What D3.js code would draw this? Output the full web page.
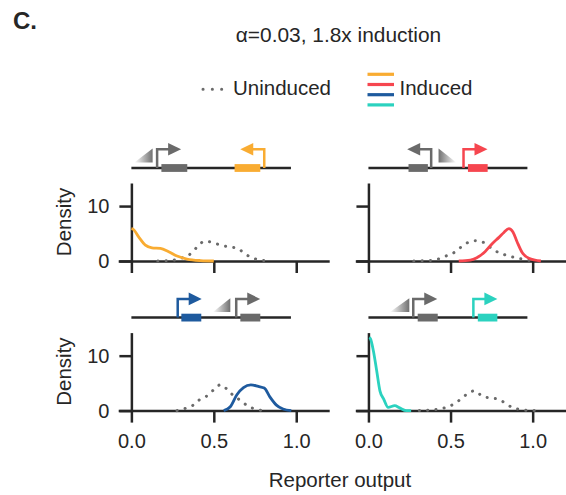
<!DOCTYPE html>
<html>
<head>
<meta charset="utf-8">
<script src="https://cdn.jsdelivr.net/npm/d3@7"></script>
<style>
body{margin:0;background:#fff;}
text{font-family:"Liberation Sans",Arial,sans-serif;fill:#262626;}
</style>
</head>
<body>
<script>
var width=566,height=495;

// ---- data ----
var xTicks=[0,0.5,1.0];
var yTicks=[0,10];
var xDomain=[-0.08,1.2];
var yDomain=[0,14.2];

// density curves [reporter output, density]
var inducedA=[[0,5.9],[0.01,5.8],[0.044,4.4],[0.085,2.9],[0.125,2.4],[0.176,2.3],[0.226,1.7],[0.277,0.9],[0.337,0.36],[0.42,0.08],[0.5,0]];
var uninducedA=[[0.16,0],[0.22,0.05],[0.317,0.67],[0.367,1.5],[0.40,2.6],[0.445,3.6],[0.49,3.4],[0.54,2.9],[0.59,2.6],[0.645,2.3],[0.685,1.4],[0.73,0.6],[0.78,0.2],[0.85,0]];
var inducedB=[[0.55,0],[0.62,0.15],[0.66,0.6],[0.71,1.7],[0.755,3.2],[0.795,4.3],[0.825,5.2],[0.855,5.9],[0.88,5.3],[0.905,3.5],[0.937,1.5],[0.977,0.5],[1.05,0]];
var uninducedB=[[0.276,0],[0.378,0.1],[0.44,0.5],[0.48,1.0],[0.525,1.6],[0.567,2.6],[0.608,3.4],[0.657,3.7],[0.70,3.4],[0.75,2.3],[0.795,1.5],[0.845,1.0],[0.896,0.6],[0.947,0.3],[1.0,0]];
var inducedC=[[0.56,0],[0.6,0.7],[0.64,2.9],[0.68,4.2],[0.725,4.7],[0.77,4.4],[0.806,4.1],[0.84,2.5],[0.88,1.0],[0.92,0.3],[0.97,0]];
var uninducedC=[[0.277,0],[0.327,0.4],[0.37,0.9],[0.41,1.9],[0.46,2.7],[0.5,3.8],[0.54,4.7],[0.58,3.9],[0.62,2.7],[0.665,1.8],[0.705,0.85],[0.75,0.3],[0.8,0]];
var inducedD=[[0.005,13.3],[0.012,13.1],[0.03,10.9],[0.05,7.3],[0.07,3.6],[0.093,2.1],[0.12,0.6],[0.16,0.9],[0.19,0.5],[0.23,0],[0.26,0]];
var uninducedD=[[0.31,0],[0.38,0.1],[0.43,0.3],[0.475,0.6],[0.52,1.2],[0.563,2.1],[0.6,3.0],[0.647,3.6],[0.69,2.7],[0.74,2.3],[0.79,2.1],[0.835,1.3],[0.88,0.5],[0.927,0.2],[0.98,0],[1.03,0]];

// gene circuit schematics, in reporter-output units along the panel
// promoters: [position, direction], genes: [start, end], inducer ramps: [start, end, direction]
var promotersA=[[0.156,1,"g"],[0.806,-1,"c"]];
var genesA=[[0.182,0.339,"g"],[0.626,0.782,"c"]];
var rampsA=[[0.018,0.129,1]];
var promotersB=[[0.382,-1,"g"],[0.579,1,"c"]];
var genesB=[[0.244,0.362,"g"],[0.606,0.726,"c"]];
var rampsB=[[0.427,0.535,-1]];
var promotersC=[[0.281,1,"c"],[0.636,1,"g"]];
var genesC=[[0.303,0.424,"c"],[0.661,0.782,"g"]];
var rampsC=[[0.495,0.6,1]];
var promotersD=[[0.273,1,"g"],[0.639,1,"c"]];
var genesD=[[0.3,0.422,"g"],[0.666,0.785,"c"]];
var rampsD=[[0.131,0.249,1]];
var schematicEnd=0.968;

var colors=["#f9ac32","#f6464f","#1e5a9e","#2bd2bf"];
var grey="#6a6a6a", ink="#262626";

var panels=[
  {induced:inducedA,uninduced:uninducedA,promoters:promotersA,genes:genesA,ramps:rampsA,color:colors[0],col:0,row:0},
  {induced:inducedB,uninduced:uninducedB,promoters:promotersB,genes:genesB,ramps:rampsB,color:colors[1],col:1,row:0},
  {induced:inducedC,uninduced:uninducedC,promoters:promotersC,genes:genesC,ramps:rampsC,color:colors[2],col:0,row:1},
  {induced:inducedD,uninduced:uninducedD,promoters:promotersD,genes:genesD,ramps:rampsD,color:colors[3],col:1,row:1}
];

// ---- layout ----
var colX=[[118.2,329.2],[355.3,565.5]];
var rowY=[[261,183],[410.6,332.6]];

var svg=d3.select("body").append("svg")
  .attr("width",width).attr("height",height);

var defs=svg.append("defs");
var gUp=defs.append("linearGradient").attr("id","rampUp");
gUp.append("stop").attr("offset","0%").attr("stop-color","#ffffff");
gUp.append("stop").attr("offset","100%").attr("stop-color","#707070");
var gDown=defs.append("linearGradient").attr("id","rampDown");
gDown.append("stop").attr("offset","0%").attr("stop-color","#707070");
gDown.append("stop").attr("offset","100%").attr("stop-color","#ffffff");

svg.append("text").attr("x",13).attr("y",28.5)
  .style("font-size","24px").style("font-weight","bold").text("C.");
svg.append("text").attr("x",338.5).attr("y",41.7).attr("text-anchor","middle")
  .style("font-size","20.9px").text("α=0.03, 1.8x induction");

// legend
svg.append("line").attr("x1",203).attr("x2",223).attr("y1",89.3).attr("y2",89.3)
  .attr("stroke",grey).attr("stroke-width",3).attr("stroke-linecap","round")
  .attr("stroke-dasharray","0.1 9.2");
svg.append("text").attr("x",233).attr("y",95).style("font-size","20.5px").text("Uninduced");
colors.forEach(function(c,i){
  svg.append("line").attr("x1",367.5).attr("x2",394).attr("y1",74.3+i*10.2).attr("y2",74.3+i*10.2)
    .attr("stroke",c).attr("stroke-width",3.2);
});
svg.append("text").attr("x",399.5).attr("y",95).style("font-size","20.5px").text("Induced");

panels.forEach(function(p){
  var x=d3.scaleLinear().domain(xDomain).range(colX[p.col]);
  var y=d3.scaleLinear().domain(yDomain).range(rowY[p.row]);
  var g=svg.append("g");
  var line=d3.line().x(function(d){return x(d[0]);}).y(function(d){return y(d[1]);}).curve(d3.curveMonotoneX);

  // axes
  var xa=d3.axisBottom(x).tickValues(xTicks).tickSize(12).tickSizeOuter(0).tickPadding(11.5)
    .tickFormat(p.row==1?d3.format(".1f"):function(){return "";});
  var gx=g.append("g").attr("transform","translate(0,"+y(0)+")").call(xa);
  var ya=d3.axisLeft(y).tickValues(yTicks).tickSize(12).tickSizeOuter(0).tickPadding(10)
    .tickFormat(p.col==0?d3.format("d"):function(){return "";});
  var gy=g.append("g").attr("transform","translate("+x(0)+",0)").call(ya);
  [gx,gy].forEach(function(a){
    a.selectAll("path,line").attr("stroke",ink).attr("stroke-width",2.5);
    a.selectAll("text").style("font-size","20px").attr("fill",ink)
      .style("font-family","'Liberation Sans',Arial,sans-serif");
  });

  if(p.col==0){
    g.append("text").attr("transform","translate(70.5,"+((y(0)+y(yDomain[1]))/2)+") rotate(-90)")
      .attr("text-anchor","middle").style("font-size","20.5px").text("Density");
  }

  g.append("path").datum(p.uninduced).attr("d",line).attr("fill","none")
    .attr("stroke",grey).attr("stroke-width",3).attr("stroke-linecap","round")
    .attr("stroke-dasharray","0.1 8.2");
  g.append("path").datum(p.induced).attr("d",line).attr("fill","none")
    .attr("stroke",p.color).attr("stroke-width",2.8).attr("stroke-linejoin","round");

  // schematic
  var ly=y(0)-93;
  var s=g.append("g");
  s.append("line").attr("x1",x(0)).attr("x2",x(schematicEnd)).attr("y1",ly).attr("y2",ly)
    .attr("stroke",ink).attr("stroke-width",2.5);
  s.selectAll("rect").data(p.genes).enter().append("rect")
    .attr("x",function(d){return x(d[0]);}).attr("width",function(d){return x(d[1])-x(d[0]);})
    .attr("y",ly-3.9).attr("height",7.8)
    .attr("fill",function(d){return d[2]=="g"?grey:p.color;});
  p.promoters.forEach(function(d){
    var px=x(d[0]), dir=d[1], c=d[2]=="g"?grey:p.color, top=ly-18.7;
    s.append("path").attr("d","M"+px+","+ly+" V"+top+" H"+(px+dir*12))
      .attr("fill","none").attr("stroke",c).attr("stroke-width",2.5);
    s.append("path").attr("d","M"+(px+dir*11)+","+(top-6.3)+" L"+(px+dir*24)+","+top+" L"+(px+dir*11)+","+(top+6.3)+"Z")
      .attr("fill",c);
  });
  p.ramps.forEach(function(d){
    var x0=x(d[0]), x1=x(d[1]), b=ly-5.6, t=ly-19.4;
    var pts=d[2]>0?[[x0,b],[x1,t],[x1,b]]:[[x0,t],[x0,b],[x1,b]];
    s.append("path").attr("d","M"+pts.join("L")+"Z")
      .attr("fill",d[2]>0?"url(#rampUp)":"url(#rampDown)");
  });
});

svg.append("text").attr("x",340).attr("y",486.7).attr("text-anchor","middle")
  .style("font-size","20.5px").text("Reporter output");
</script>
</body>
</html>
